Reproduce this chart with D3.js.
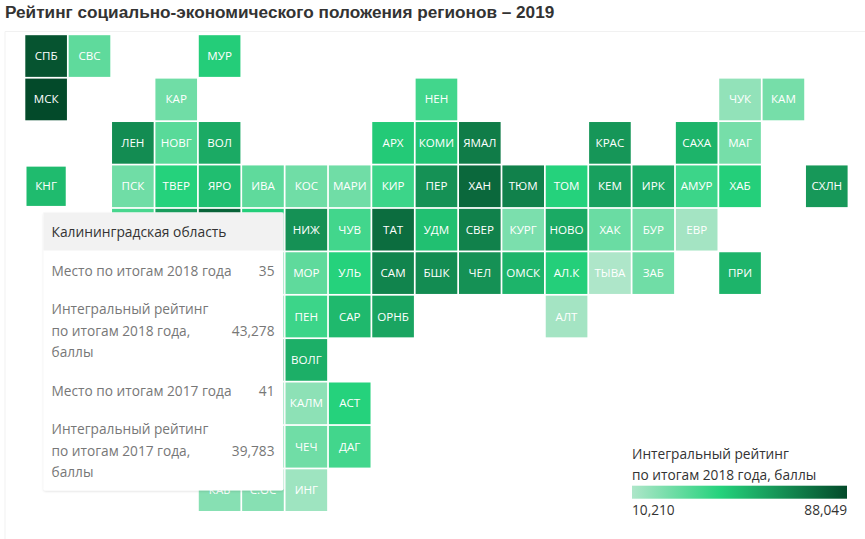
<!DOCTYPE html>
<html>

<head>
    <meta charset="utf-8">
    <script src="https://d3js.org/d3.v7.min.js"></script>

    <style>
        body {
            margin: 0;
            background: white;
            overflow: hidden;
        }

        svg text {
            font-family: "Open Sans", sans-serif;
        }
    </style>
</head>

<body>
    <script type="text/javascript">
        "use strict";

        // tile map: region code, column, row, rating (estimated from the tile colour)
        var codes = ["СПБ", "СВС", "МУР",
            "МСК", "КАР", "НЕН", "ЧУК", "КАМ",
            "ЛЕН", "НОВГ", "ВОЛ", "АРХ", "КОМИ", "ЯМАЛ", "КРАС", "САХА", "МАГ",
            "КНГ", "ПСК", "ТВЕР", "ЯРО", "ИВА", "КОС", "МАРИ", "КИР", "ПЕР", "ХАН", "ТЮМ", "ТОМ", "КЕМ", "ИРК", "АМУР", "ХАБ", "СХЛН",
            "", "", "", "", "НИЖ", "ЧУВ", "ТАТ", "УДМ", "СВЕР", "КУРГ", "НОВО", "ХАК", "БУР", "ЕВР",
            "", "МОР", "УЛЬ", "САМ", "БШК", "ЧЕЛ", "ОМСК", "АЛ.К", "ТЫВА", "ЗАБ", "ПРИ",
            "", "ПЕН", "САР", "ОРНБ", "АЛТ",
            "", "ВОЛГ",
            "", "КАЛМ", "АСТ",
            "", "ЧЕЧ", "ДАГ",
            "КАБ", "С.ОС", "ИНГ"];
        var cols = [0, 1, 4,
            0, 3, 9, 16, 17,
            2, 3, 4, 8, 9, 10, 13, 15, 16,
            0, 2, 3, 4, 5, 6, 7, 8, 9, 10, 11, 12, 13, 14, 15, 16, 18,
            2, 3, 4, 5, 6, 7, 8, 9, 10, 11, 12, 13, 14, 15,
            5, 6, 7, 8, 9, 10, 11, 12, 13, 14, 16,
            5, 6, 7, 8, 12,
            5, 6,
            5, 6, 7,
            5, 6, 7,
            4, 5, 6];
        var rows = [0, 0, 0,
            1, 1, 1, 1, 1,
            2, 2, 2, 2, 2, 2, 2, 2, 2,
            3, 3, 3, 3, 3, 3, 3, 3, 3, 3, 3, 3, 3, 3, 3, 3, 3,
            4, 4, 4, 4, 4, 4, 4, 4, 4, 4, 4, 4, 4, 4,
            5, 5, 5, 5, 5, 5, 5, 5, 5, 5, 5,
            6, 6, 6, 6, 6,
            7, 7,
            8, 8, 8,
            9, 9, 9,
            10, 10, 10];
        var ratings = [84, 24, 36,
            88.049, 21, 29, 15, 20,
            62, 25, 50, 37, 40, 68, 58, 46, 20,
            43.278, 21, 34, 42, 24, 21, 21, 30, 60, 76, 66, 34, 54, 50, 30, 35, 57,
            28, 55, 78, 35, 60, 29, 74, 41, 66, 19, 50, 22, 20, 12,
            30, 24, 34, 65, 62, 60, 46, 35, 10.21, 21, 46,
            34, 30, 44, 52, 12,
            50, 48,
            30, 16, 34,
            30, 21, 29,
            17, 17, 13];

        var hoveredCode = "КНГ";

        var colorStops = [10.21, 34, 88.049];
        var colorRange = ["#aee6c9", "#25d27c", "#034a2a"];
        var legendOffsets = [0, 0.41, 1];
        var legendTitle = ["Интегральный рейтинг", "по итогам 2018 года, баллы"];
        var legendLabels = ["10,210", "88,049"];

        var tooltipTitle = "Калининградская область";
        var tooltipLabels = [
            ["Место по итогам 2018 года"],
            ["Интегральный рейтинг", "по итогам 2018 года,", "баллы"],
            ["Место по итогам 2017 года"],
            ["Интегральный рейтинг", "по итогам 2017 года,", "баллы"]
        ];
        var tooltipValues = ["35", "43,278", "41", "39,783"];

        var width = 865,
            height = 539;

        var svg = d3.select("body")
            .append("svg")
            .attr("width", width)
            .attr("height", height)
            .style("display", "block");

        svg.append("text")
            .attr("x", 5)
            .attr("y", 18)
            .style("font-family", "'Liberation Sans', sans-serif")
            .style("font-weight", "bold")
            .style("font-size", "17.2px")
            .style("fill", "#333")
            .text("Рейтинг социально-экономического положения регионов – 2019");

        // frame
        svg.append("path")
            .attr("d", "M5,539V31.5H865")
            .attr("fill", "none")
            .attr("stroke", "#f1f1f1");

        var x = d3.scaleBand()
            .domain(d3.range(19))
            .range([25.3, 847.6])
            .paddingInner(0.04);
        var y = d3.scaleBand()
            .domain(d3.range(11))
            .range([35.2, 511])
            .paddingInner(0.04);
        var color = d3.scaleLinear()
            .domain(colorStops)
            .range(colorRange);

        var tiles = svg.append("g")
            .selectAll("g")
            .data(codes)
            .enter()
            .append("g");

        tiles.append("rect")
            .attr("x", function(d, i) {
                return x(cols[i]) + (d === hoveredCode ? 1.2 : 0);
            })
            .attr("y", function(d, i) {
                return y(rows[i]) + (d === hoveredCode ? 1.2 : 0);
            })
            .attr("width", function(d) {
                return x.bandwidth() - (d === hoveredCode ? 2.4 : 0);
            })
            .attr("height", function(d) {
                return y.bandwidth() - (d === hoveredCode ? 2.4 : 0);
            })
            .attr("fill", function(d, i) {
                return color(ratings[i]);
            });

        tiles.append("text")
            .attr("x", function(d, i) {
                return x(cols[i]) + x.bandwidth() / 2;
            })
            .attr("y", function(d, i) {
                return y(rows[i]) + y.bandwidth() / 2 + 4;
            })
            .attr("text-anchor", "middle")
            .style("font-size", "11.6px")
            .style("fill", "white")
            .text(function(d) {
                return d;
            });

        // tooltip
        var defs = svg.append("defs");
        var shadow = defs.append("filter")
            .attr("id", "shadow")
            .attr("x", "-5%")
            .attr("y", "-5%")
            .attr("width", "110%")
            .attr("height", "110%");
        shadow.append("feDropShadow")
            .attr("dx", 0)
            .attr("dy", 1)
            .attr("stdDeviation", 1)
            .attr("flood-color", "#000")
            .attr("flood-opacity", 0.12);

        var tip = svg.append("g");
        tip.append("rect")
            .attr("x", 43.5)
            .attr("y", 212.5)
            .attr("width", 240)
            .attr("height", 278)
            .attr("rx", 2)
            .attr("fill", "white")
            .attr("filter", "url(#shadow)");
        tip.append("rect")
            .attr("x", 43.5)
            .attr("y", 212.5)
            .attr("width", 240)
            .attr("height", 38)
            .attr("fill", "#f2f2f2");
        tip.append("text")
            .attr("x", 51.5)
            .attr("y", 237)
            .style("font-size", "13.8px")
            .style("fill", "#333")
            .text(tooltipTitle);

        var tipTop = [276, 314, 396, 434];
        var tipMid = [276, 336, 396, 456];
        tooltipLabels.forEach(function(lines, i) {
            lines.forEach(function(line, j) {
                tip.append("text")
                    .attr("x", 51.5)
                    .attr("y", tipTop[i] + j * 21.5)
                    .style("font-size", "13.7px")
                    .style("fill", "#777")
                    .text(line);
            });
            tip.append("text")
                .attr("x", 274.5)
                .attr("y", tipMid[i])
                .attr("text-anchor", "end")
                .style("font-size", "13.7px")
                .style("fill", "#777")
                .text(tooltipValues[i]);
        });

        // legend
        var gradient = defs.append("linearGradient")
            .attr("id", "legend-gradient");
        gradient.selectAll("stop")
            .data(colorRange)
            .enter()
            .append("stop")
            .attr("offset", function(d, i) {
                return legendOffsets[i];
            })
            .attr("stop-color", function(d) {
                return d;
            });

        var legend = svg.append("g");
        legend.selectAll("text.title")
            .data(legendTitle)
            .enter()
            .append("text")
            .attr("class", "title")
            .attr("x", 632)
            .attr("y", function(d, i) {
                return 458.5 + i * 21.5;
            })
            .style("font-size", "13.7px")
            .style("fill", "#333")
            .text(function(d) {
                return d;
            });
        legend.append("rect")
            .attr("x", 632)
            .attr("y", 485.7)
            .attr("width", 215)
            .attr("height", 13)
            .attr("fill", "url(#legend-gradient)");
        legend.selectAll("text.label")
            .data(legendLabels)
            .enter()
            .append("text")
            .attr("class", "label")
            .attr("x", function(d, i) {
                return i === 0 ? 632 : 847;
            })
            .attr("y", 515)
            .attr("text-anchor", function(d, i) {
                return i === 0 ? "start" : "end";
            })
            .style("font-size", "13.7px")
            .style("fill", "#333")
            .text(function(d) {
                return d;
            });
    </script>
</body>

</html>
